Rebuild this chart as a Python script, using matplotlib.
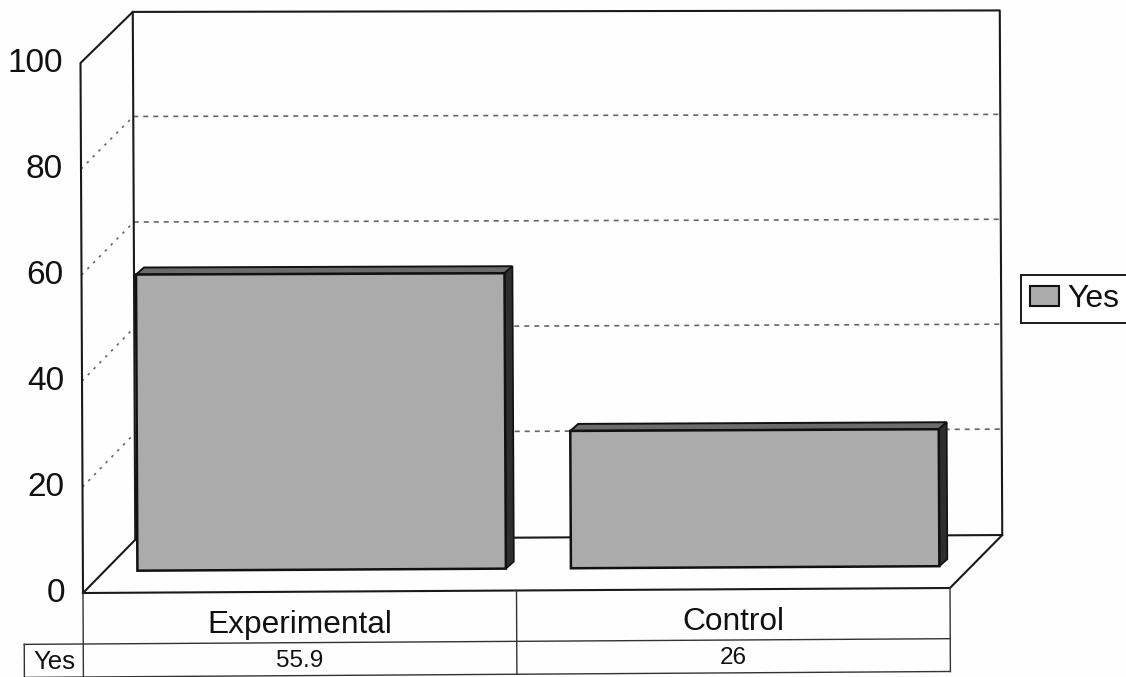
import matplotlib
matplotlib.use("Agg")
import matplotlib.pyplot as plt
import numpy as np
from matplotlib.patches import Polygon, Patch
from matplotlib.transforms import Transform

plt.rcParams["font.family"] = ["Liberation Sans", "DejaVu Sans"]

# Chart data
CATEGORIES = ["Experimental", "Control"]
YES_VALUES = [55.9, 26]
TABLE_TEXT = ["55.9", "26"]
SERIES_NAME = "Yes"
Y_TICKS = [0, 20, 40, 60, 80, 100]

W, H = 1126, 677
GRAY = "#ababab"
INK = "#111111"


# The page was scanned crooked: more tilt at the bottom of the page than at the top
class ScanWarp(Transform):
    input_dims = 2
    output_dims = 2

    def transform_non_affine(self, values):
        x = values[:, 0] - 83
        y = values[:, 1] - (H - 593)
        slope = 0.00577 + (0.0017 - 0.00577) * y / 581
        return np.column_stack([values[:, 0] - y * 0.0047, values[:, 1] + x * slope])


fig = plt.figure(figsize=(W / 100, H / 100), dpi=100, facecolor="#fefefe")
# Front plane of the 3D box: 0-2 categories wide, 0-100 tall
ax = fig.add_axes([83 / W, (H - 593) / H, 867 / W, 530 / H])
ax.set_xlim(0, 2)
ax.set_ylim(0, 100)
ax.set_axis_off()

tilted = ax.transData + ScanWarp()


# Pixel to data unit helpers
def px(n):
    return n * 2 / 867


def py(n):
    return n * 100 / 530


def line(xs, ys, color="#1a1a1a", lw=1.5, ls="-", z=2):
    ax.plot(xs, ys, color=color, lw=lw, ls=ls, transform=tilted, clip_on=False,
            zorder=z, solid_capstyle="projecting")


wall_x = px(52.5)
wall_y = py(53)
wall_top = 100 + py(51)


# Back wall is a hair shorter than the front plane
def wall(value):
    return wall_y + value * (wall_top - wall_y) / 100


# Back wall and floor outline
line([wall_x, wall_x, 2 + wall_x, 2 + wall_x], [wall_y, wall_top, wall_top, wall_y])
line([0, 0, wall_x], [0, 100, wall_top])
line([0, wall_x, 2 + wall_x, 2, 0], [0, wall_y, wall_y, 0, 0])

# Gridlines on the back wall and the side wall
for tick in Y_TICKS[1:-1]:
    line([wall_x, 2 + wall_x], [wall(tick) + py(1), wall(tick) + py(1)], color="#666666", lw=1.2, ls=(0, (3, 3)), z=1)
    line([0, wall_x], [tick, wall(tick) + py(1)], color="#666666", lw=1.2, ls=(0, (1.5, 3.5)), z=1)

# Bars, moved forward from the front edge of the floor
bar_width = 0.85
bar_x = [i + 0.5 + px(22) for i in range(len(CATEGORIES))]
bar_floor = py(22)
depth_x = px(8)
depth_y = py(7)

ax.bar(bar_x, YES_VALUES, bar_width, bottom=bar_floor, color=GRAY, edgecolor=INK,
       linewidth=1.8, transform=tilted, clip_on=False, zorder=5)
for x, value in zip(bar_x, YES_VALUES):
    left = x - bar_width / 2
    right = x + bar_width / 2
    top = bar_floor + value
    ax.add_patch(Polygon([(left, top), (right, top), (right + depth_x, top + depth_y), (left + depth_x, top + depth_y)],
                         facecolor="#6b6b6b", edgecolor=INK, lw=1.4, transform=tilted, clip_on=False, zorder=4))
    ax.add_patch(Polygon([(right, bar_floor), (right + depth_x, bar_floor + depth_y), (right + depth_x, top + depth_y), (right, top)],
                         facecolor="#2e2e2e", edgecolor=INK, lw=1.2, transform=tilted, clip_on=False, zorder=4))

# Y axis labels
for tick in Y_TICKS:
    ax.text(-px(18), tick, str(tick), ha="right", va="center", fontsize=24, color=INK,
            transform=tilted, clip_on=False)

# Data table under the plot
table_top = -py(51)
table_bottom = -py(84)
for edge in [0, 1, 2]:
    line([edge, edge], [0, table_bottom], color="#333333", lw=1)
line([-px(59), 2], [table_top, table_top], color="#333333", lw=1)
line([-px(59), 2], [table_bottom, table_bottom], color="#333333", lw=1)
line([-px(59), -px(59)], [table_top, table_bottom], color="#333333", lw=1)

for i, (name, text) in enumerate(zip(CATEGORIES, TABLE_TEXT)):
    ax.text(i + 0.5, -py(33), name, ha="center", va="center", fontsize=22.8, color=INK, transform=tilted)
    ax.text(i + 0.5, -py(69), text, ha="center", va="center", fontsize=17.5, color=INK, transform=tilted)
ax.text(-px(29), -py(69), SERIES_NAME, ha="center", va="center", fontsize=18.5, color=INK, transform=tilted)

# Legend
handle = Patch(facecolor=GRAY, edgecolor=INK, linewidth=1.5, label=SERIES_NAME)
leg = fig.legend(handles=[handle], loc="upper left", bbox_to_anchor=(1021 / W, 1 - 275 / H), borderaxespad=0,
                 fontsize=23, fancybox=False, framealpha=1, edgecolor="#1a1a1a",
                 borderpad=0.28, handlelength=0.9, handleheight=0.6, handletextpad=0.28)
leg.get_frame().set_linewidth(1.4)
leg.get_texts()[0].set_color(INK)

fig.savefig("out.png", dpi=100, facecolor=fig.get_facecolor())
